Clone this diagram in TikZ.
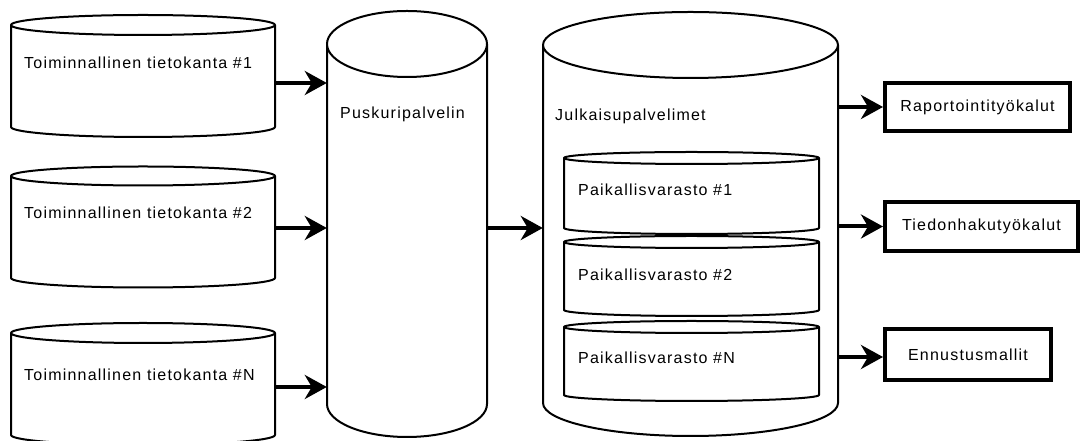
\documentclass[tikz,border=0pt]{standalone}
\usepackage{fontspec}
\setmainfont{Liberation Sans}[LetterSpace=7.6]
\usetikzlibrary{arrows.meta,fit}

% Vertical drum (database cylinder): name, left x, right x, top-centre y, bottom-centre y, ellipse half-height
\newcommand{\drumbody}[6]{%
  \pgfmathsetmacro\drumrx{(#3-#2)/2}%
  \node[fit={(#2,#4+#6) (#3,#5-#6)}, inner sep=0pt] (#1) {};
  \draw[drum] (#2,#4) -- (#2,#5)
     arc[start angle=180, end angle=360, x radius=\drumrx pt, y radius=#6 pt]
     -- (#3,#4)
     arc[start angle=0, end angle=180, x radius=\drumrx pt, y radius=#6 pt]
     arc[start angle=180, end angle=360, x radius=\drumrx pt, y radius=#6 pt];
}

\begin{document}
\begin{tikzpicture}[x=1pt, y=1pt,
  drum/.style={draw=black, fill=white, line width=2pt, line join=round},
  lbl/.style={anchor=base west, inner sep=0pt, font=\fontsize{16}{19}\selectfont},
  toolbox/.style={draw=black, fill=white, line width=4pt, inner sep=0pt,
                  font=\fontsize{16}{19}\selectfont},
  flow/.style={line width=4pt, -{Stealth[length=22pt, width=24pt, inset=7pt]}}]

\useasboundingbox (0,0) rectangle (1082,441);

% operational databases
\drumbody{db1}{11}{275}{416}{314}{10}
\drumbody{db2}{11}{275}{265}{163}{9.5}
\drumbody{db3}{11}{275}{108}{6}{10}
\node[lbl] (t1) at (24,372.3) {Toiminnallinen tietokanta \#1};
\node[lbl] (t2) at (24,222.3) {Toiminnallinen tietokanta \#2};
\node[lbl] (t3) at (24,60.3) {Toiminnallinen tietokanta \#N};

% staging server
\drumbody{buf}{327}{487}{397}{37}{33}
\node[lbl] (tbuf) at (340,322.3) {Puskuripalvelin};

% publishing servers with local stores
\drumbody{pub}{543}{838}{396}{38}{33}
\node[lbl] (tpub) at (555,320.3) {Julkaisupalvelimet};
\drumbody{ls1}{564}{819}{283}{213}{6}
\drumbody{ls2}{564}{819}{199}{131}{6}
\drumbody{ls3}{564}{819}{114}{46}{6}
\node[lbl] (tls1) at (578,245.3) {Paikallisvarasto \#1};
\node[lbl] (tls2) at (578,160.3) {Paikallisvarasto \#2};
\node[lbl] (tls3) at (578,77.3) {Paikallisvarasto \#N};

% end-user tools
\node[toolbox, minimum width=185pt, minimum height=48pt] (rap) at (977.5,334) {Raportointityökalut};
\node[toolbox, minimum width=193pt, minimum height=49pt] (tie) at (981.5,214.5) {Tiedonhakutyökalut};
\node[toolbox, minimum width=166pt, minimum height=51pt] (enn) at (968,86.5) {Ennustusmallit};

% data flows
\draw[flow] ([yshift=-7pt]db1.east) -- ([yshift=-7pt]db1.east -| buf.west);
\draw[flow] ([yshift=-1pt]db2.east) -- ([yshift=-1pt]db2.east -| buf.west);
\draw[flow] ([yshift=-3pt]db3.east) -- ([yshift=-3pt]db3.east -| buf.west);
\draw[flow] ([yshift=-4pt]buf.east) -- ([yshift=-4pt]buf.east -| pub.west);
\draw[flow] (pub.east |- rap.west) -- (rap.west);
\draw[flow] (pub.east |- tie.west) -- (tie.west);
\draw[flow] ([yshift=-2.5pt]pub.east |- enn.west) -- ([yshift=-2.5pt]enn.west);

\end{tikzpicture}
\end{document}
